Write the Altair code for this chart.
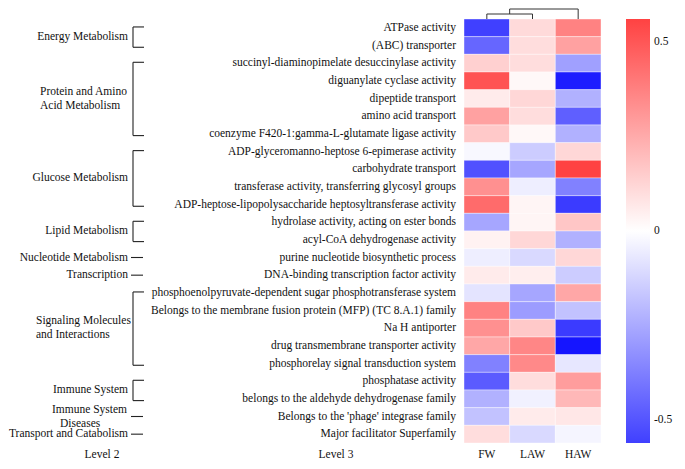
import altair as alt
import pandas as pd

# ---------------- data ----------------
columns = ["FW", "LAW", "HAW"]
level3 = [
    "ATPase activity",
    "(ABC) transporter",
    "succinyl-diaminopimelate desuccinylase activity",
    "diguanylate cyclase activity",
    "dipeptide transport",
    "amino acid transport",
    "coenzyme F420-1:gamma-L-glutamate ligase activity",
    "ADP-glyceromanno-heptose 6-epimerase activity",
    "carbohydrate transport",
    "transferase activity, transferring glycosyl groups",
    "ADP-heptose-lipopolysaccharide heptosyltransferase activity",
    "hydrolase activity, acting on ester bonds",
    "acyl-CoA dehydrogenase activity",
    "purine nucleotide biosynthetic process",
    "DNA-binding transcription factor activity",
    "phosphoenolpyruvate-dependent sugar phosphotransferase system",
    "Belongs to the membrane fusion protein (MFP) (TC 8.A.1) family",
    "Na H antiporter",
    "drug transmembrane transporter activity",
    "phosphorelay signal transduction system",
    "phosphatase activity",
    "belongs to the aldehyde dehydrogenase family",
    "Belongs to the 'phage' integrase family",
    "Major facilitator Superfamily",
]
fw = [-0.56, -0.45, 0.14, 0.51, 0.06, 0.28, 0.16, -0.02, -0.51, 0.33, 0.44, -0.26,
      0.04, -0.05, 0.06, -0.08, 0.37, 0.33, 0.26, -0.37, -0.48, -0.23, -0.18, 0.10]
law = [0.11, 0.10, 0.10, 0.02, 0.12, 0.10, 0.02, -0.15, -0.26, -0.05, 0.03, 0.03,
       0.12, -0.11, 0.05, -0.26, -0.29, 0.16, 0.36, 0.35, 0.10, -0.04, 0.06, -0.11]
haw = [0.37, 0.28, -0.28, -0.69, -0.23, -0.47, -0.23, 0.12, 0.56, -0.37, -0.58, 0.17,
       -0.23, 0.12, -0.15, 0.26, -0.18, -0.58, -0.72, -0.07, 0.29, 0.21, 0.07, -0.03]

level2 = ["Energy Metabolism", "Protein and Amino\nAcid Metabolism", "Glucose Metabolism",
          "Lipid Metabolism", "Nucleotide Metabolism", "Transcription",
          "Signaling Molecules\nand Interactions", "Immune System",
          "Immune System\nDiseases", "Transport and Catabolism"]
group_first = [0, 2, 7, 11, 13, 14, 15, 20, 22, 23]
group_last = [1, 6, 10, 12, 13, 14, 19, 21, 22, 23]
group_bracket = [True, True, True, True, False, False, True, True, False, False]

cbar_ticks = [0.5, 0, -0.5]
cbar_limit = 0.56
color_domain = [-0.8, -0.56, 0, 0.56]
color_range = ["#0000ff", "#4040ff", "#ffffff", "#ff4242"]

# dendrogram merge heights: (FW, LAW), then (FW+LAW, HAW)
dendro_heights = [0.5, 1.0]

# ---------------- layout ----------------
W, H = 137, 424
NROW = len(level3)
COLW = W / len(columns)
ROWH = H / NROW
FONT = "Liberation Serif"
FS = 11.5


def px_x(p):
    return p / COLW


def px_y(p):
    return p / ROWH


XS = alt.Scale(domain=[0, 3], nice=False, zero=False)
YS = alt.Scale(domain=[0, NROW], nice=False, zero=False, reverse=True)

# heatmap
cells = []
for ci, (c, vals) in enumerate(zip(columns, [fw, law, haw])):
    for ri, v in enumerate(vals):
        cells.append({"x": ci, "x2": ci + 1, "y": ri, "y2": ri + 1, "value": v,
                      "col": c, "term": level3[ri]})
heat = alt.Chart(pd.DataFrame(cells)).mark_rect(stroke="white", strokeWidth=0.4).encode(
    x=alt.X("x:Q", scale=XS, axis=None), x2="x2:Q",
    y=alt.Y("y:Q", scale=YS, axis=None), y2="y2:Q",
    color=alt.Color("value:Q", scale=alt.Scale(domain=color_domain, range=color_range,
                                                interpolate="rgb"), legend=None),
)

# level 3 labels
l3df = pd.DataFrame({"label": level3, "x": px_x(-8), "y": [i + 0.5 for i in range(NROW)]})
l3 = alt.Chart(l3df).mark_text(align="right", baseline="middle", font=FONT, fontSize=FS,
                               color="#111").encode(
    x=alt.X("x:Q", scale=XS, axis=None), y=alt.Y("y:Q", scale=YS, axis=None), text="label:N")

# column labels + titles
bottom_y = NROW + px_y(12)
coldf = pd.DataFrame({"label": columns, "x": [i + 0.5 for i in range(3)], "y": bottom_y})
titles = pd.DataFrame({"label": ["Level 2", "Level 3"], "x": [px_x(-362), px_x(-128)],
                       "y": bottom_y})
colt = alt.Chart(pd.concat([coldf, titles])).mark_text(
    align="center", baseline="middle", font=FONT, fontSize=FS, color="#111").encode(
    x=alt.X("x:Q", scale=XS, axis=None), y=alt.Y("y:Q", scale=YS, axis=None), text="label:N")

# level 2 brackets & labels
XV, XE = -331, -320
segs = []
lines = []
TEXT_R = -336
for name, f, l, br in zip(level2, group_first, group_last, group_bracket):
    center = (f + l + 1) / 2
    if br:
        top, bot = f + 0.45, l + 0.6
        segs.append({"x": px_x(XV), "x2": px_x(XV), "y": top, "y2": bot})
        segs.append({"x": px_x(XV), "x2": px_x(XE), "y": top, "y2": top})
        segs.append({"x": px_x(XV), "x2": px_x(XE), "y": bot, "y2": bot})
    else:
        segs.append({"x": px_x(-333), "x2": px_x(-321), "y": center, "y2": center})
    parts = name.split("\n")
    if len(parts) == 1:
        lines.append({"label": name, "x": px_x(TEXT_R), "y": center, "align": "right"})
    else:
        for k, part in enumerate(parts):
            off = (k - (len(parts) - 1) / 2) * 14
            lines.append({"label": part, "x": px_x(TEXT_R), "y": center + px_y(off),
                          "first": k == 0, "group": name})
segdf = pd.DataFrame(segs)
brackets = alt.Chart(segdf).mark_rule(color="#222", strokeWidth=1.1).encode(
    x=alt.X("x:Q", scale=XS, axis=None), x2="x2:Q",
    y=alt.Y("y:Q", scale=YS, axis=None), y2="y2:Q")

single = pd.DataFrame([d for d in lines if d.get("align") == "right"])
multi = [d for d in lines if d.get("align") != "right"]
# multi-line blocks are left aligned (block width estimates in px)
block_w = {"Protein and Amino\nAcid Metabolism": 88,
           "Signaling Molecules\nand Interactions": 92,
           "Immune System\nDiseases": 76}
indent = {"Immune System\nDiseases": 8}
for d in multi:
    d["x"] = px_x(TEXT_R - block_w[d["group"]] + (0 if d["first"] else indent.get(d["group"], 0)))
multidf = pd.DataFrame(multi)[["label", "x", "y"]]

l2a = alt.Chart(single).mark_text(align="right", baseline="middle", font=FONT, fontSize=FS,
                                  color="#111").encode(
    x=alt.X("x:Q", scale=XS, axis=None), y=alt.Y("y:Q", scale=YS, axis=None), text="label:N")
l2b = alt.Chart(multidf).mark_text(align="left", baseline="middle", font=FONT, fontSize=FS,
                                   color="#111").encode(
    x=alt.X("x:Q", scale=XS, axis=None), y=alt.Y("y:Q", scale=YS, axis=None), text="label:N")

# dendrogram
h1 = -px_y(dendro_heights[0] * 10)
h2 = -px_y(dendro_heights[1] * 10)
dsegs = [
    {"x": 0.5, "x2": 0.5, "y": 0, "y2": h1},
    {"x": 1.5, "x2": 1.5, "y": 0, "y2": h1},
    {"x": 0.5, "x2": 1.5, "y": h1, "y2": h1},
    {"x": 1.0, "x2": 1.0, "y": h1, "y2": h2},
    {"x": 2.5, "x2": 2.5, "y": 0, "y2": h2},
    {"x": 1.0, "x2": 2.5, "y": h2, "y2": h2},
]
dendro = alt.Chart(pd.DataFrame(dsegs)).mark_rule(color="#333", strokeWidth=1).encode(
    x=alt.X("x:Q", scale=XS, axis=None), x2="x2:Q",
    y=alt.Y("y:Q", scale=YS, axis=None), y2="y2:Q")

# colour bar
grad = alt.Gradient(
    gradient="linear", x1=0, x2=0, y1=0, y2=1,
    stops=[alt.GradientStop(color=color_range[3], offset=0),
           alt.GradientStop(color=color_range[2], offset=0.5),
           alt.GradientStop(color=color_range[1], offset=1)])
cbdf = pd.DataFrame({"x": [px_x(W + 25)], "x2": [px_x(W + 49)], "y": [0], "y2": [NROW]})
cbar = alt.Chart(cbdf).mark_rect(color=grad).encode(
    x=alt.X("x:Q", scale=XS, axis=None), x2="x2:Q",
    y=alt.Y("y:Q", scale=YS, axis=None), y2="y2:Q")
tickdf = pd.DataFrame({"v": cbar_ticks, "label": [("%g" % t) for t in cbar_ticks]})
tickdf["y"] = (cbar_limit - tickdf["v"]) / (2 * cbar_limit) * NROW
tickdf["x"] = px_x(W + 53)
cbtext = alt.Chart(tickdf).mark_text(align="left", baseline="middle", font=FONT,
                                     fontSize=FS, color="#111").encode(
    x=alt.X("x:Q", scale=XS, axis=None), y=alt.Y("y:Q", scale=YS, axis=None), text="label:N")

chart = alt.layer(heat, dendro, l3, colt, brackets, l2a, l2b, cbar, cbtext).properties(
    width=W, height=H, padding=0
).configure_view(stroke=None)

chart.save("out.html", embed_options={"renderer": "svg", "actions": False})
